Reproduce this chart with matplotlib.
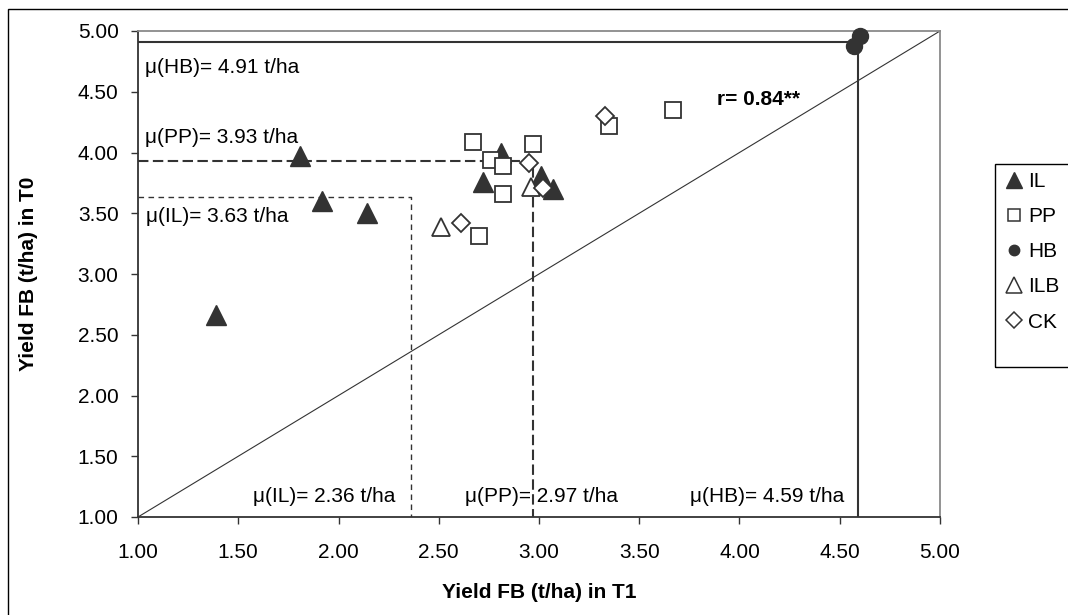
import matplotlib
matplotlib.use("Agg")
import matplotlib.pyplot as plt
from matplotlib.lines import Line2D
from matplotlib.patches import Rectangle

plt.rcParams['font.family'] = ['Liberation Sans', 'DejaVu Sans']
plt.rcParams['lines.scale_dashes'] = False

# --- data: yield of faba bean (t/ha), T1 on x, T0 on y ---
il_t1 = [1.39, 1.81, 1.92, 2.14, 2.72, 2.81, 3.01, 3.07]
il_t0 = [2.66, 3.97, 3.60, 3.50, 3.76, 4.00, 3.81, 3.70]

pp_t1 = [2.67, 2.76, 2.82, 2.82, 2.97, 2.70, 3.35, 3.67]
pp_t0 = [4.09, 3.94, 3.89, 3.66, 4.07, 3.31, 4.22, 4.35]

hb_t1 = [4.60, 4.57]
hb_t0 = [4.96, 4.88]

ilb_t1 = [2.51, 2.96]
ilb_t0 = [3.39, 3.72]

ck_t1 = [2.61, 2.95, 3.02, 3.33]
ck_t0 = [3.42, 3.91, 3.71, 4.30]

# group means (t/ha)
mean_groups = ['IL', 'PP', 'HB']
mean_t1 = [2.36, 2.97, 4.59]
mean_t0 = [3.63, 3.93, 4.91]
r_value = 0.84

axis_limits = [1.0, 5.0]
tick_values = [1.0, 1.5, 2.0, 2.5, 3.0, 3.5, 4.0, 4.5, 5.0]
tick_labels = ['1.00', '1.50', '2.00', '2.50', '3.00', '3.50', '4.00', '4.50', '5.00']

DARK = '#333333'
FS = 15

W, H = 1068, 615
fig = plt.figure(figsize=(W / 100, H / 100), dpi=100)
fig.patch.set_facecolor('white')

# chart-area border
fig.patches.append(Rectangle((8 / W, -0.5), 2.0, (1 - 9 / H) + 0.5,
                             transform=fig.transFigure, fill=False,
                             lw=1.0, ec='black', zorder=0))

ax = fig.add_axes([138 / W, 1 - 517 / H, 802 / W, 486 / H])
ax.set_xlim(axis_limits)
ax.set_ylim(axis_limits)
ax.set_xticks(tick_values)
ax.set_xticklabels(tick_labels)
ax.set_yticks(tick_values)
ax.set_yticklabels(tick_labels)

for side in ('left', 'bottom'):
    ax.spines[side].set_color(DARK)
    ax.spines[side].set_linewidth(1.3)
for side in ('top', 'right'):
    ax.spines[side].set_color('#8a8a8a')
    ax.spines[side].set_linewidth(1.3)

ax.tick_params(axis='both', direction='out', length=5, width=1.0,
               color=DARK, labelsize=FS, labelcolor='black')
ax.tick_params(axis='y', pad=9)
ax.tick_params(axis='x', pad=14)

ax.set_xlabel('Yield FB (t/ha) in T1', fontsize=FS, fontweight='bold')
ax.set_ylabel('Yield FB (t/ha) in T0', fontsize=FS, fontweight='bold')
ax.xaxis.label.set_va('center')
ax.yaxis.label.set_va('center')
ax.xaxis.set_label_coords(0.5, -(592 - 517) / 486)
ax.yaxis.set_label_coords(-(138 - 28) / 802, 0.5)

# 1:1 line
ax.plot(axis_limits, axis_limits, color=DARK, lw=0.8, zorder=2)

# mean guide lines
mean_styles = {
    'IL': dict(lw=1.0, dashes=(4.0, 3.2)),
    'PP': dict(lw=1.5, dashes=(7.5, 3.2)),
    'HB': dict(lw=1.5, ls='-'),
}
for g, mx, my in zip(mean_groups, mean_t1, mean_t0):
    ax.plot([axis_limits[0], mx, mx], [my, my, axis_limits[0]],
            color=DARK, zorder=3, **mean_styles[g])

# scatter series
ax.plot(il_t1, il_t0, ls='none', marker='^', ms=14.5, mfc=DARK, mec=DARK,
        mew=1.0, zorder=5, clip_on=False)
ax.plot(pp_t1, pp_t0, ls='none', marker='s', ms=12, mfc='white', mec=DARK,
        mew=1.3, zorder=6, clip_on=False)
ax.plot(hb_t1, hb_t0, ls='none', marker='o', ms=11.5, mfc=DARK, mec=DARK,
        mew=1.0, zorder=7, clip_on=False)
ax.plot(ilb_t1, ilb_t0, ls='none', marker='^', ms=13.5, mfc='white', mec=DARK,
        mew=1.3, zorder=8, clip_on=False)
ax.plot(ck_t1, ck_t0, ls='none', marker='D', ms=9.5, mfc='white', mec=DARK,
        mew=1.3, zorder=9, clip_on=False)

# mean annotations
ax.text(1.035, 4.70, f'μ(HB)= {mean_t0[2]:.2f} t/ha', fontsize=FS, ha='left', va='center')
ax.text(1.035, 4.12, f'μ(PP)= {mean_t0[1]:.2f} t/ha', fontsize=FS, ha='left', va='center')
ax.text(1.04, 3.47, f'μ(IL)= {mean_t0[0]:.2f} t/ha', fontsize=FS, ha='left', va='center')
ax.text(1.93, 1.165, f'μ(IL)= {mean_t1[0]:.2f} t/ha', fontsize=FS, ha='center', va='center')
ax.text(3.01, 1.165, f'μ(PP)= {mean_t1[1]:.2f} t/ha', fontsize=FS, ha='center', va='center')
ax.text(4.14, 1.165, f'μ(HB)= {mean_t1[2]:.2f} t/ha', fontsize=FS, ha='center', va='center')
ax.text(3.89, 4.44, f'r= {r_value:.2f}**', fontsize=FS, fontweight='bold',
        ha='left', va='center')

# legend
handles = [
    Line2D([], [], ls='none', marker='^', ms=11.5, mfc=DARK, mec=DARK, mew=1.0),
    Line2D([], [], ls='none', marker='s', ms=9, mfc='white', mec=DARK, mew=1.1),
    Line2D([], [], ls='none', marker='o', ms=7.5, mfc=DARK, mec=DARK, mew=1.0),
    Line2D([], [], ls='none', marker='^', ms=11, mfc='white', mec=DARK, mew=1.1),
    Line2D([], [], ls='none', marker='D', ms=8, mfc='white', mec=DARK, mew=1.1),
]
labels = ['IL', 'PP', 'HB', 'ILB', 'CK']
fig.patches.append(Rectangle((995 / W, 1 - 367 / H), 0.2, (367 - 164) / H,
                             transform=fig.transFigure, fill=False,
                             lw=1.0, ec='black', zorder=1))
fig.legend(handles, labels, loc='upper left',
           bbox_to_anchor=(995 / W, 1 - 164 / H), frameon=False,
           fontsize=FS, handlelength=1.0, handletextpad=0.2,
           borderpad=0.4, labelspacing=0.77, borderaxespad=0)

fig.savefig('out.png', dpi=100, facecolor='white')
